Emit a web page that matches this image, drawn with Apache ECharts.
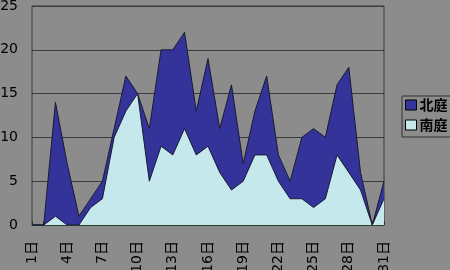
<!DOCTYPE html>
<html><head><meta charset="utf-8">
<script src="https://cdn.jsdelivr.net/npm/echarts@6/dist/echarts.min.js"></script>
<style>html,body{margin:0;padding:0;background:#8c8c8c;}#c{width:450px;height:270px;}</style>
</head><body><div id="c"></div>
<script>
var days = [];
for (var d = 1; d <= 31; d++) days.push(d + '日');
var north = [0,0,14,7,1,3,5,11,17,15,11,20,20,22,13,19,11,16,7,13,17,8,5,10,11,10,16,18,6,0,5];
var south = [0,0,1,0,0,2,3,10,13,15,5,9,8,11,8,9,6,4,5,8,8,5,3,3,2,3,8,6,4,0,3];
var yTicks = [0,5,10,15,20,25];
var font = '"DejaVu Sans", "Noto Sans CJK JP", sans-serif';
var cjk = '"Noto Sans CJK JP", "Noto Sans", sans-serif';
var chart = echarts.init(document.getElementById('c'));
chart.setOption({
  backgroundColor: '#8c8c8c',
  animation: false,
  grid: {left: 32, top: 6, right: 66, bottom: 45, containLabel: false, outerBoundsMode: 'none',
         show: true, backgroundColor: '#8c8c8c', borderColor: '#3a3a3a', borderWidth: 1},
  legend: {
    orient: 'vertical', left: 402, top: 96,
    padding: [2, 8, 5, 3], itemGap: 6, itemWidth: 11, itemHeight: 10,
    borderColor: '#333', borderWidth: 1, backgroundColor: '#8c8c8c',
    icon: 'rect',
    itemStyle: {borderColor: '#000', borderWidth: 1},
    textStyle: {fontFamily: cjk, fontSize: 14, fontWeight: 'bold', color: '#000', lineHeight: 14, padding: [0,0,0,-2]},
    data: ['北庭', '南庭']
  },
  xAxis: {
    type: 'category', data: days, boundaryGap: false,
    axisLine: {lineStyle: {color: '#2f3f2f', width: 1}},
    axisTick: {inside: true, length: 4, interval: 0, lineStyle: {color: '#333'}},
    axisLabel: {interval: 2, rotate: 90, margin: 16, fontFamily: font, fontSize: 14, color: '#000', padding: [0,0,4,0]},
    splitLine: {show: false}
  },
  yAxis: {
    type: 'value', min: yTicks[0], max: yTicks[yTicks.length-1], interval: 5,
    axisLine: {show: false}, axisTick: {show: false},
    axisLabel: {margin: 14, fontFamily: font, fontSize: 14, color: '#000'},
    splitLine: {lineStyle: {color: '#3a3a3a', width: 1}}
  },
  series: [
    {name: '北庭', type: 'line', data: north, symbol: 'none',
     itemStyle: {color: '#333399'},
     lineStyle: {color: '#1a1a33', width: 1},
     areaStyle: {color: '#333399', opacity: 1}},
    {name: '南庭', type: 'line', data: south, symbol: 'none',
     itemStyle: {color: '#c4e8ec'},
     lineStyle: {color: '#1a1a33', width: 1},
     areaStyle: {color: '#c4e8ec', opacity: 1}}
  ]
});
</script></body></html>
